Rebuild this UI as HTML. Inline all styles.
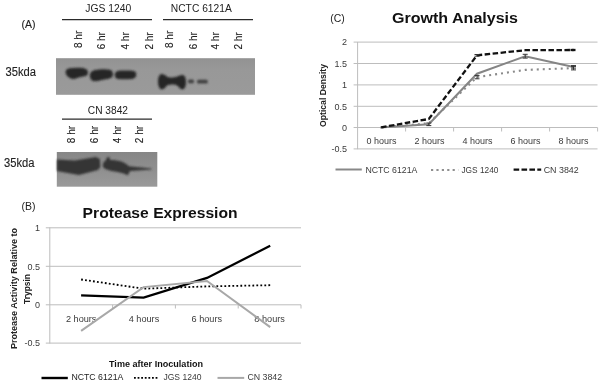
<!DOCTYPE html>
<html><head><meta charset="utf-8"><style>
html,body{margin:0;padding:0;background:#fff;width:602px;height:385px;overflow:hidden}
svg{display:block;font-family:"Liberation Sans", sans-serif;will-change:transform}
</style></head><body>
<svg width="602" height="385" viewBox="0 0 602 385">
<defs><filter id="blur" x="-20%" y="-50%" width="140%" height="200%"><feGaussianBlur stdDeviation="0.8"/></filter><linearGradient id="g1" x1="0" y1="0" x2="0" y2="1"><stop offset="0" stop-color="#929292"/><stop offset="0.3" stop-color="#989898"/><stop offset="1" stop-color="#9a9a9a"/></linearGradient><linearGradient id="g2" x1="0" y1="0" x2="0" y2="1"><stop offset="0" stop-color="#868686"/><stop offset="0.5" stop-color="#8f8f8f"/><stop offset="1" stop-color="#9a9a9a"/></linearGradient></defs>
<rect width="602" height="385" fill="#fff"/>
<text x="21.5" y="27.5" font-size="10.5" text-anchor="start" font-weight="normal" fill="#222" stroke="#222" stroke-width="0.12">(A)</text>
<text x="85.3" y="12.2" font-size="10" text-anchor="start" font-weight="normal" fill="#222" textLength="46" lengthAdjust="spacingAndGlyphs" >JGS 1240</text>
<text x="170.8" y="12.2" font-size="10" text-anchor="start" font-weight="normal" fill="#222" textLength="61" lengthAdjust="spacingAndGlyphs" >NCTC 6121A</text>
<text x="87.8" y="114.4" font-size="10" text-anchor="start" font-weight="normal" fill="#222" textLength="40.2" lengthAdjust="spacingAndGlyphs" >CN 3842</text>
<line x1="62" y1="19.7" x2="152" y2="19.7" stroke="#2a2a2a" stroke-width="1.3"/>
<line x1="163" y1="19.7" x2="253" y2="19.7" stroke="#2a2a2a" stroke-width="1.3"/>
<line x1="62" y1="119.2" x2="152" y2="119.2" stroke="#2a2a2a" stroke-width="1.3"/>
<text x="5.5" y="75.8" font-size="12" text-anchor="start" font-weight="normal" fill="#222" textLength="30.5" lengthAdjust="spacingAndGlyphs" stroke="#222" stroke-width="0.12">35kda</text>
<text x="4" y="166.8" font-size="12" text-anchor="start" font-weight="normal" fill="#222" textLength="30.5" lengthAdjust="spacingAndGlyphs" stroke="#222" stroke-width="0.12">35kda</text>
<text transform="translate(81.7,48) rotate(-90)" font-size="10" fill="#222" stroke="#222" stroke-width="0.12">8 hr</text>
<text transform="translate(105.3,49.3) rotate(-90)" font-size="10" fill="#222" stroke="#222" stroke-width="0.12">6 hr</text>
<text transform="translate(128.7,49.5) rotate(-90)" font-size="10" fill="#222" stroke="#222" stroke-width="0.12">4 hr</text>
<text transform="translate(152.8,49.6) rotate(-90)" font-size="10" fill="#222" stroke="#222" stroke-width="0.12">2 hr</text>
<text transform="translate(173,48) rotate(-90)" font-size="10" fill="#222" stroke="#222" stroke-width="0.12">8 hr</text>
<text transform="translate(196.5,49.3) rotate(-90)" font-size="10" fill="#222" stroke="#222" stroke-width="0.12">6 hr</text>
<text transform="translate(219,49.5) rotate(-90)" font-size="10" fill="#222" stroke="#222" stroke-width="0.12">4 hr</text>
<text transform="translate(242.3,49.6) rotate(-90)" font-size="10" fill="#222" stroke="#222" stroke-width="0.12">2 hr</text>
<text transform="translate(74.5,143.2) rotate(-90)" font-size="10" fill="#222" stroke="#222" stroke-width="0.12">8 hr</text>
<text transform="translate(97.8,143.2) rotate(-90)" font-size="10" fill="#222" stroke="#222" stroke-width="0.12">6 hr</text>
<text transform="translate(120.7,143.2) rotate(-90)" font-size="10" fill="#222" stroke="#222" stroke-width="0.12">4 hr</text>
<text transform="translate(143.2,143.2) rotate(-90)" font-size="10" fill="#222" stroke="#222" stroke-width="0.12">2 hr</text>
<rect x="56" y="58.2" width="199" height="36.6" fill="url(#g1)"/>
<rect x="56.8" y="152" width="100.5" height="34.7" fill="url(#g2)"/>
<g filter="url(#blur)" fill="#282828">
<path d="M65.5,72 C65.8,69.5 67.5,68.6 70,68.3 C74,67.8 80,67.6 84,68.2 C87,68.8 88.2,70.8 88,73 C87.8,75.5 85.8,76.3 82,76.8 C78,77.3 76.5,79 73,79 C69.5,78.8 65.5,75.5 65.5,72Z"/>
<path d="M89.8,75.5 C89.8,72.6 91.6,70.7 95,70 C99,69.1 106,68.8 110,69.8 C112.4,70.5 113.2,72.7 113,74.8 C112.8,77.4 110.8,78.7 106,79.2 C101.5,79.6 98,81.3 94.5,81.2 C91.2,80.8 89.8,78 89.8,75.5Z"/>
<path d="M114.8,74.8 C114.8,71.8 117.8,70.6 121,70.5 C126,70.3 131,70.3 133.7,70.9 C136,71.5 136.3,73.3 136.3,74.8 C136.3,77.2 134.8,78.6 132,78.9 C127,79.4 121,79.4 118,79 C115.8,78.7 114.8,77.4 114.8,74.8Z"/>
<path d="M158,81.5 C158,76.5 159.8,74 162,74 C164.5,74 166,76.5 168.5,77.2 C171,77.8 174,77.8 176.5,76.8 C178.5,76 180.5,75 182.5,75 C185,75 186,78 186,82 C186,86 185,89.4 182.5,89.4 C180,89.4 178.5,86 176,85 C173,84.4 170,84.4 167.5,85.3 C165.5,86.8 164.5,89.4 162,89.4 C159.5,89.4 158,86 158,81.5Z"/>
</g>
<g filter="url(#blur)" fill="#404040">
<rect x="188" y="79.6" width="6" height="3.6" rx="1.5"/>
<rect x="197" y="79.8" width="10.8" height="3.6" rx="1.5"/>
</g>
<g filter="url(#blur)" fill="#353535">
<path d="M57,159.5 L74.9,160.5 L95.9,157 L99.9,159 L100.3,167 L97.9,170 L78.9,174.9 L65,172.4 L57,171Z"/>
<path d="M102.8,165 C103,162.5 104.5,161 106,160.5 C106.2,158.5 107,157 108.2,157 C109.6,157 110.4,158.5 110,160 C113,159.8 118,160.5 122,161.8 C125,163 127,164.5 129,166.3 L151.5,168.6 L151.5,169.6 L130,171 C129.2,172.8 128.5,174.5 127.6,175.3 C125,174 121,172.5 116.5,171.8 C112,171 107,170 104.5,168.5 C103.2,167.6 102.8,166.5 102.8,165Z"/>
</g>
<text x="330.3" y="22.3" font-size="10.5" text-anchor="start" font-weight="normal" fill="#222" textLength="14.5" lengthAdjust="spacingAndGlyphs" >(C)</text>
<text x="392" y="23.4" font-size="15.3" text-anchor="start" font-weight="bold" fill="#111" textLength="126" lengthAdjust="spacingAndGlyphs" >Growth Analysis</text>
<line x1="353.6" y1="42.1" x2="597.5" y2="42.1" stroke="#bdbdbd" stroke-width="1"/>
<text x="347" y="45.300000000000004" font-size="9" text-anchor="end" font-weight="normal" fill="#3a3a3a" >2</text>
<line x1="353.6" y1="63.5" x2="597.5" y2="63.5" stroke="#bdbdbd" stroke-width="1"/>
<text x="347" y="66.7" font-size="9" text-anchor="end" font-weight="normal" fill="#3a3a3a" >1.5</text>
<line x1="353.6" y1="84.9" x2="597.5" y2="84.9" stroke="#bdbdbd" stroke-width="1"/>
<text x="347" y="88.10000000000001" font-size="9" text-anchor="end" font-weight="normal" fill="#3a3a3a" >1</text>
<line x1="353.6" y1="106.3" x2="597.5" y2="106.3" stroke="#bdbdbd" stroke-width="1"/>
<text x="347" y="109.5" font-size="9" text-anchor="end" font-weight="normal" fill="#3a3a3a" >0.5</text>
<line x1="353.6" y1="127.5" x2="597.5" y2="127.5" stroke="#bdbdbd" stroke-width="1"/>
<text x="347" y="130.7" font-size="9" text-anchor="end" font-weight="normal" fill="#3a3a3a" >0</text>
<line x1="353.6" y1="148.9" x2="597.5" y2="148.9" stroke="#bdbdbd" stroke-width="1"/>
<text x="347" y="152.1" font-size="9" text-anchor="end" font-weight="normal" fill="#3a3a3a" >-0.5</text>
<line x1="357.6" y1="42" x2="357.6" y2="149.2" stroke="#bdbdbd" stroke-width="1"/>
<line x1="405.6" y1="127.5" x2="405.6" y2="131.5" stroke="#bdbdbd" stroke-width="1"/>
<line x1="453.6" y1="127.5" x2="453.6" y2="131.5" stroke="#bdbdbd" stroke-width="1"/>
<line x1="501.6" y1="127.5" x2="501.6" y2="131.5" stroke="#bdbdbd" stroke-width="1"/>
<line x1="549.6" y1="127.5" x2="549.6" y2="131.5" stroke="#bdbdbd" stroke-width="1"/>
<line x1="597.6" y1="127.5" x2="597.6" y2="131.5" stroke="#bdbdbd" stroke-width="1"/>
<text x="381.6" y="144.3" font-size="9" text-anchor="middle" font-weight="normal" fill="#3a3a3a" textLength="30" lengthAdjust="spacingAndGlyphs" >0 hours</text>
<text x="429.6" y="144.3" font-size="9" text-anchor="middle" font-weight="normal" fill="#3a3a3a" textLength="30" lengthAdjust="spacingAndGlyphs" >2 hours</text>
<text x="477.6" y="144.3" font-size="9" text-anchor="middle" font-weight="normal" fill="#3a3a3a" textLength="30" lengthAdjust="spacingAndGlyphs" >4 hours</text>
<text x="525.6" y="144.3" font-size="9" text-anchor="middle" font-weight="normal" fill="#3a3a3a" textLength="30" lengthAdjust="spacingAndGlyphs" >6 hours</text>
<text x="573.6" y="144.3" font-size="9" text-anchor="middle" font-weight="normal" fill="#3a3a3a" textLength="30" lengthAdjust="spacingAndGlyphs" >8 hours</text>
<text transform="translate(325.6,95.5) rotate(-90)" font-size="9.3" font-weight="bold" text-anchor="middle" fill="#222" textLength="63" lengthAdjust="spacingAndGlyphs">Optical Density</text>
<polyline points="380.2,127.5 428.8,124.3 477.0,73.7 525.2,56.2 573.5,66.9" fill="none" stroke="#858585" stroke-width="2"/>
<polyline points="380.2,127.5 428.8,123.2 477.0,77.1 525.2,69.9 573.5,68.1" fill="none" stroke="#8a8a8a" stroke-width="2.1" stroke-dasharray="2 4" stroke-dashoffset="4.23"/>
<polyline points="380.2,127.5 428.8,119.0 477.0,55.3 525.2,50.2 573.5,50.0" fill="none" stroke="#111" stroke-width="2.3" stroke-dasharray="5.5 2.5" stroke-dashoffset="7.06"/>
<path d="M426.3,123.0H431.3M428.8,123.0V125.6M426.3,125.6H431.3" stroke="#333" stroke-width="1" fill="none"/>
<path d="M474.5,54.5H479.5M477,54.5V56.2M474.5,56.2H479.5" stroke="#333" stroke-width="1" fill="none"/>
<path d="M474.5,75.4H479.5M477,75.4V78.8M474.5,78.8H479.5" stroke="#333" stroke-width="1" fill="none"/>
<path d="M522.7,54.3H527.7M525.2,54.3V58.1M522.7,58.1H527.7" stroke="#333" stroke-width="1" fill="none"/>
<path d="M571.0,65.6H576.0M573.5,65.6V68.1M571.0,68.1H576.0" stroke="#333" stroke-width="1" fill="none"/>
<path d="M571.0,66.4H576.0M573.5,66.4V69.9M571.0,69.9H576.0" stroke="#333" stroke-width="1" fill="none"/>
<line x1="570.5" y1="50" x2="575.5" y2="50" stroke="#111" stroke-width="2.3"/>
<line x1="335.5" y1="169.5" x2="361.8" y2="169.5" stroke="#888" stroke-width="2"/>
<text x="365.4" y="173.3" font-size="8.5" text-anchor="start" font-weight="normal" fill="#3a3a3a" textLength="52" lengthAdjust="spacingAndGlyphs" >NCTC 6121A</text>
<line x1="431" y1="170" x2="458.2" y2="170" stroke="#8f8f8f" stroke-width="2.2" stroke-dasharray="2.2 3.2"/>
<text x="461.4" y="173.3" font-size="8.5" text-anchor="start" font-weight="normal" fill="#3a3a3a" textLength="37" lengthAdjust="spacingAndGlyphs" >JGS 1240</text>
<line x1="513.6" y1="169.7" x2="541.2" y2="169.7" stroke="#111" stroke-width="2.2" stroke-dasharray="5.6 2.3"/>
<text x="543.7" y="173.4" font-size="8.5" text-anchor="start" font-weight="normal" fill="#3a3a3a" textLength="35" lengthAdjust="spacingAndGlyphs" >CN 3842</text>
<text x="21.5" y="210" font-size="10.5" text-anchor="start" font-weight="normal" fill="#222" textLength="14" lengthAdjust="spacingAndGlyphs" >(B)</text>
<text x="82.6" y="218.4" font-size="15.5" text-anchor="start" font-weight="bold" fill="#111" textLength="155" lengthAdjust="spacingAndGlyphs" >Protease Expression</text>
<line x1="45.8" y1="227.8" x2="301" y2="227.8" stroke="#bdbdbd" stroke-width="1"/>
<text x="40" y="231.0" font-size="9" text-anchor="end" font-weight="normal" fill="#3a3a3a" >1</text>
<line x1="45.8" y1="266.3" x2="301" y2="266.3" stroke="#bdbdbd" stroke-width="1"/>
<text x="40" y="269.5" font-size="9" text-anchor="end" font-weight="normal" fill="#3a3a3a" >0.5</text>
<line x1="45.8" y1="304.8" x2="301" y2="304.8" stroke="#bdbdbd" stroke-width="1"/>
<text x="40" y="308.0" font-size="9" text-anchor="end" font-weight="normal" fill="#3a3a3a" >0</text>
<line x1="45.8" y1="343.1" x2="301" y2="343.1" stroke="#bdbdbd" stroke-width="1"/>
<text x="40" y="346.3" font-size="9" text-anchor="end" font-weight="normal" fill="#3a3a3a" >-0.5</text>
<line x1="49.8" y1="227.5" x2="49.8" y2="343.5" stroke="#bdbdbd" stroke-width="1"/>
<line x1="112.6" y1="304.8" x2="112.6" y2="308.5" stroke="#bdbdbd" stroke-width="1"/>
<line x1="175.4" y1="304.8" x2="175.4" y2="308.5" stroke="#bdbdbd" stroke-width="1"/>
<line x1="238.2" y1="304.8" x2="238.2" y2="308.5" stroke="#bdbdbd" stroke-width="1"/>
<line x1="301.0" y1="304.8" x2="301.0" y2="308.5" stroke="#bdbdbd" stroke-width="1"/>
<text x="81.2" y="322" font-size="9" text-anchor="middle" font-weight="normal" fill="#3a3a3a" textLength="30.5" lengthAdjust="spacingAndGlyphs" >2 hours</text>
<text x="144.0" y="322" font-size="9" text-anchor="middle" font-weight="normal" fill="#3a3a3a" textLength="30.5" lengthAdjust="spacingAndGlyphs" >4 hours</text>
<text x="206.8" y="322" font-size="9" text-anchor="middle" font-weight="normal" fill="#3a3a3a" textLength="30.5" lengthAdjust="spacingAndGlyphs" >6 hours</text>
<text x="269.6" y="322" font-size="9" text-anchor="middle" font-weight="normal" fill="#3a3a3a" textLength="30.5" lengthAdjust="spacingAndGlyphs" >8 hours</text>
<text transform="translate(17.3,288.5) rotate(-90)" font-size="9.3" font-weight="bold" text-anchor="middle" fill="#222" textLength="121" lengthAdjust="spacingAndGlyphs">Protease Activity Relative to</text>
<text transform="translate(29.7,289) rotate(-90)" font-size="9.3" font-weight="bold" text-anchor="middle" fill="#222" textLength="30" lengthAdjust="spacingAndGlyphs">Trypsin</text>
<text x="109" y="366.9" font-size="9" text-anchor="start" font-weight="bold" fill="#111" textLength="94" lengthAdjust="spacingAndGlyphs" >Time after Inoculation</text>
<polyline points="81.1,295.3 143.6,297.6 207.0,277.9 270.2,245.7" fill="none" stroke="#000" stroke-width="2.2"/>
<polyline points="81.1,279.5 143.6,288.7 207.0,286.4 270.2,285.2" fill="none" stroke="#000" stroke-width="1.8" stroke-dasharray="1.8 2.2"/>
<polyline points="81.1,330.9 143.6,287.1 207.0,281.0 270.2,327.1" fill="none" stroke="#a8a8a8" stroke-width="2"/>
<line x1="41.5" y1="378" x2="67.8" y2="378" stroke="#000" stroke-width="2.4"/>
<text x="71.4" y="379.5" font-size="8.5" text-anchor="start" font-weight="normal" fill="#222" textLength="52" lengthAdjust="spacingAndGlyphs" >NCTC 6121A</text>
<line x1="134" y1="377.9" x2="159" y2="377.9" stroke="#000" stroke-width="1.8" stroke-dasharray="1.8 1.8"/>
<text x="163.4" y="379.8" font-size="8.5" text-anchor="start" font-weight="normal" fill="#3a3a3a" textLength="38" lengthAdjust="spacingAndGlyphs" >JGS 1240</text>
<line x1="217.5" y1="377.9" x2="244.2" y2="377.9" stroke="#a8a8a8" stroke-width="2"/>
<text x="247.4" y="380.4" font-size="8.5" text-anchor="start" font-weight="normal" fill="#3a3a3a" textLength="34.7" lengthAdjust="spacingAndGlyphs" >CN 3842</text>
</svg>
</body></html>
